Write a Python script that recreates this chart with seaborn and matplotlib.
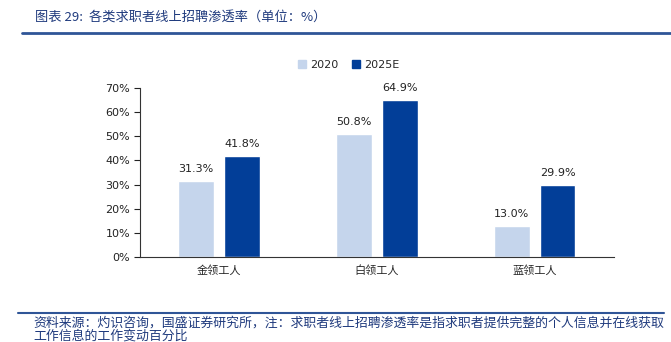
import matplotlib
matplotlib.use("Agg")
import matplotlib.pyplot as plt
import seaborn as sns
import pandas as pd
from matplotlib.lines import Line2D

categories = ["金领工人", "白领工人", "蓝领工人"]
series_names = ["2020", "2025E"]
values_2020 = [31.3, 50.8, 13.0]
values_2025 = [41.8, 64.9, 29.9]
yticks = [0, 10, 20, 30, 40, 50, 60, 70]

sns.set_theme(style="white")
plt.rcParams['font.family'] = ['DejaVu Sans', 'Noto Sans CJK SC']

df = pd.DataFrame({
    "cat": categories * 2,
    "series": [series_names[0]] * 3 + [series_names[1]] * 3,
    "val": values_2020 + values_2025,
})

colors = {"2020": "#C5D5EC", "2025E": "#023E98"}

fig = plt.figure(figsize=(6.71, 3.42), dpi=100)
ax = fig.add_axes([0.2086, 0.2485, 0.706, 0.4942])
sns.barplot(data=df, x="cat", y="val", hue="series", palette=colors,
            width=0.58, gap=0.22, ax=ax, legend=False, saturation=1)

for cont in ax.containers:
    ax.bar_label(cont, labels=[f"{v:.1f}%" for v in cont.datavalues],
                 padding=5, fontsize=8, color="#222222")

ax.set_ylim(0, 70)
ax.set_yticks(yticks)
ax.set_yticklabels([f"{t}%" for t in yticks], fontsize=8)
ax.set_xlim(-0.5, 2.5)
ax.set_xlabel("")
ax.set_ylabel("")
for lbl in ax.get_xticklabels():
    lbl.set_fontfamily(['Noto Sans CJK SC'])
    lbl.set_fontsize(8)
ax.tick_params(axis='x', length=0, pad=6)
ax.tick_params(axis='y', length=4, width=0.8, direction='out', left=True, pad=3, colors='#222222')
for s in ["top", "right"]:
    ax.spines[s].set_visible(False)
ax.spines["left"].set_color("#333333")
ax.spines["bottom"].set_color("#333333")
ax.spines["left"].set_linewidth(0.8)
ax.spines["bottom"].set_linewidth(0.8)

handles = [plt.Rectangle((0, 0), 1, 1, color=colors[s]) for s in series_names]
fig.legend(handles, series_names, loc="center", bbox_to_anchor=(0.52, 0.81),
           ncol=2, frameon=False, fontsize=8, handlelength=0.7, handleheight=0.7,
           columnspacing=1.2, handletextpad=0.4)

title_color = "#1F3A7D"
fig.text(0.052, 0.95, "图表 29:  各类求职者线上招聘渗透率（单位：%）", fontsize=9.5,
         color=title_color, family=['Noto Sans CJK SC', 'DejaVu Sans'], style='italic', va='center')
fig.add_artist(Line2D([0.033, 1.0], [0.903, 0.903], color="#2F5597", linewidth=2.0))
fig.add_artist(Line2D([0.027, 0.99], [0.085, 0.085], color="#2F5597", linewidth=1.5))
fig.text(0.050, 0.056, "资料来源：灼识咨询，国盛证券研究所，注：求职者线上招聘渗透率是指求职者提供完整的个人信息并在线获取",
         fontsize=9.3, color=title_color, family=['Noto Sans CJK SC', 'DejaVu Sans'], va='center')
fig.text(0.050, 0.018, "工作信息的工作变动百分比",
         fontsize=9.3, color=title_color, family=['Noto Sans CJK SC', 'DejaVu Sans'], va='center')

fig.savefig("out.png", dpi=100)
